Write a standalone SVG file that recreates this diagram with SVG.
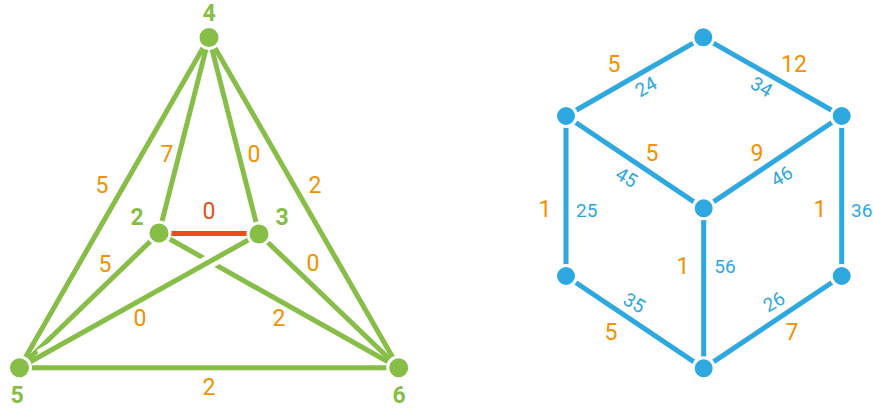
<svg xmlns="http://www.w3.org/2000/svg" width="873" height="409" viewBox="0 0 873 409">
<style>
.g{stroke:#86BE47;stroke-width:5;fill:none}
.r{stroke:#E94E1B;stroke-width:5;fill:none}
.b{stroke:#2EA8E0;stroke-width:5;fill:none}
.halo{stroke:#fff;stroke-width:14;fill:none}
.gn{fill:#86BE47;stroke:#fff;stroke-width:3}
.bn{fill:#2EA8E0;stroke:#fff;stroke-width:3}
text{font-family:Roboto,"Liberation Sans",sans-serif;text-anchor:middle}
.w{font-size:23px;fill:#F39200}
.wr{font-size:23px;fill:#E94E1B}
.nl{font-family:Roboto,"Liberation Sans",sans-serif;font-size:23px;font-weight:700;fill:#86BE47}
.bl{font-size:19px;fill:#2EA8E0}
</style>
<rect width="873" height="409" fill="#fff"/>
<g id="connectors">
<line class="g" x1="209" y1="37.5" x2="19.5" y2="367.7"/>
<line class="g" x1="209" y1="37.5" x2="398.7" y2="367.7"/>
<line class="g" x1="209" y1="37.5" x2="159" y2="233"/>
<line class="g" x1="209" y1="37.5" x2="259" y2="234"/>
<line class="g" x1="19.5" y1="367.7" x2="398.7" y2="367.7"/>
<line class="g" x1="159" y1="233" x2="19.5" y2="367.7"/>
<line class="g" x1="259" y1="234" x2="398.7" y2="367.7"/>
<line class="g" x1="159" y1="233" x2="398.7" y2="367.7"/>
<line class="halo" x1="252" y1="238" x2="40" y2="356"/>
<line class="g" x1="259" y1="234" x2="19.5" y2="367.7"/>
<line class="r" x1="159" y1="233.5" x2="259" y2="233.5"/>
<line class="b" x1="703.3" y1="37.3" x2="566" y2="116"/>
<line class="b" x1="703.3" y1="37.3" x2="841.7" y2="116"/>
<line class="b" x1="566" y1="116" x2="703.7" y2="208.3"/>
<line class="b" x1="841.7" y1="116" x2="703.7" y2="208.3"/>
<line class="b" x1="566" y1="116" x2="566" y2="276"/>
<line class="b" x1="841.7" y1="116" x2="841.7" y2="276"/>
<line class="b" x1="703.7" y1="208.3" x2="703.7" y2="368.3"/>
<line class="b" x1="566" y1="276" x2="703.7" y2="368.3"/>
<line class="b" x1="841.7" y1="276" x2="703.7" y2="368.3"/>
</g>
<g id="n4"><circle class="gn" cx="209" cy="37.5" r="11"/><text class="nl" x="209" y="21">4</text></g>
<g id="n2"><circle class="gn" cx="159" cy="233" r="11"/><text class="nl" x="137" y="225">2</text></g>
<g id="n3"><circle class="gn" cx="259" cy="234" r="11"/><text class="nl" x="282" y="225">3</text></g>
<g id="n5"><circle class="gn" cx="19.5" cy="367.7" r="11"/><text class="nl" x="17" y="402.5">5</text></g>
<g id="n6"><circle class="gn" cx="398.7" cy="367.7" r="11"/><text class="nl" x="399" y="402.5">6</text></g>
<g id="c1"><circle class="bn" cx="703.3" cy="37.3" r="10.5"/></g>
<g id="c2"><circle class="bn" cx="566" cy="116" r="10.5"/></g>
<g id="c3"><circle class="bn" cx="841.7" cy="116" r="10.5"/></g>
<g id="c4"><circle class="bn" cx="703.7" cy="208.3" r="10.5"/></g>
<g id="c5"><circle class="bn" cx="566" cy="276" r="10.5"/></g>
<g id="c6"><circle class="bn" cx="841.7" cy="276" r="10.5"/></g>
<g id="c7"><circle class="bn" cx="703.7" cy="368.3" r="10.5"/></g>
<g id="labels">
<text class="w" x="102" y="193">5</text>
<text class="w" x="167" y="162">7</text>
<text class="w" x="254" y="162">0</text>
<text class="w" x="315" y="193">2</text>
<text class="wr" x="209" y="219">0</text>
<text class="w" x="105" y="272">5</text>
<text class="w" x="313" y="271">0</text>
<text class="w" x="140" y="326">0</text>
<text class="w" x="279" y="326">2</text>
<text class="w" x="209" y="395">2</text>
<text class="w" x="614" y="71.5">5</text>
<text class="w" x="794" y="71.5">12</text>
<text class="w" x="652" y="161">5</text>
<text class="w" x="757" y="161">9</text>
<text class="w" x="545" y="216.5">1</text>
<text class="w" x="820" y="216.5">1</text>
<text class="w" x="683" y="274">1</text>
<text class="w" x="611" y="340">5</text>
<text class="w" x="792" y="340">7</text>
<text class="bl" transform="translate(646,86.7) rotate(-30)" y="6.7">24</text>
<text class="bl" transform="translate(761.7,86.7) rotate(30)" y="6.7">34</text>
<text class="bl" transform="translate(626.7,177.3) rotate(30)" y="6.7">45</text>
<text class="bl" transform="translate(781.7,176) rotate(-30)" y="6.7">46</text>
<text class="bl" x="586.7" y="216.7">25</text>
<text class="bl" x="861.7" y="216.7">36</text>
<text class="bl" x="725" y="273.4">56</text>
<text class="bl" transform="translate(634.3,302.7) rotate(30)" y="6.7">35</text>
<text class="bl" transform="translate(774,301.7) rotate(-30)" y="6.7">26</text>
</g>
</svg>
